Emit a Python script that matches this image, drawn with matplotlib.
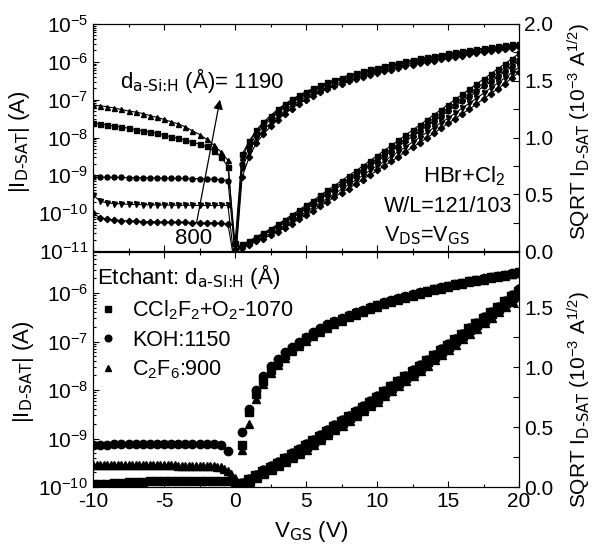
import matplotlib
matplotlib.use('Agg')
import matplotlib.pyplot as plt
import numpy as np
from matplotlib.ticker import MultipleLocator, LogLocator, NullFormatter, FormatStrFormatter

plt.rcParams['font.family'] = ['Liberation Sans', 'DejaVu Sans']
plt.rcParams['mathtext.default'] = 'regular'
plt.rcParams['axes.unicode_minus'] = False

# gate voltage sweeps (V)
v_off = np.arange(-10, 0, 0.5)          # top panel, off branch
v_on = np.arange(0, 20.01, 0.5)         # top panel, on branch
vb_off = np.arange(-10, 0.01, 0.5)      # bottom panel, off branch
vb_tri_off = np.arange(-10, 0.26, 0.25) # bottom panel, C2F6 off branch
vb_on = np.arange(0.5, 20.01, 0.5)      # bottom panel, on branch

# ---- top panel: HBr+Cl2, five a-Si:H thicknesses (A) ----
tri_off = [7.2e-8, 6.9e-8, 6.5e-8, 6.0e-8, 5.5e-8, 5.0e-8, 4.7e-8, 4.3e-8, 3.8e-8, 3.4e-8,
           3.0e-8, 2.6e-8, 2.3e-8, 1.9e-8, 1.5e-8, 1.2e-8, 8.9e-9, 6.3e-9, 4.2e-9, 2.5e-9]
sq_off = [2.4e-8, 2.3e-8, 2.15e-8, 2.0e-8, 1.9e-8, 1.75e-8, 1.6e-8, 1.5e-8, 1.4e-8, 1.3e-8,
          1.15e-8, 1.05e-8, 9.5e-9, 8.5e-9, 7.5e-9, 6.7e-9, 5.8e-9, 4.5e-9, 3.1e-9, 1.7e-9]
circ_off = [9.0e-10, 8.9e-10, 8.9e-10, 8.8e-10, 8.8e-10, 8.7e-10, 8.7e-10, 8.6e-10, 8.6e-10, 8.5e-10,
            8.5e-10, 8.4e-10, 8.3e-10, 8.3e-10, 8.2e-10, 8.1e-10, 8.0e-10, 7.9e-10, 7.7e-10, 7.3e-10]
dtri_off = [3.0e-10, 2.1e-10, 1.85e-10, 1.8e-10, 1.75e-10, 1.72e-10, 1.7e-10, 1.68e-10, 1.66e-10, 1.65e-10,
            1.64e-10, 1.63e-10, 1.62e-10, 1.62e-10, 1.61e-10, 1.6e-10, 1.6e-10, 1.6e-10, 1.6e-10, 1.6e-10]
diam_off = [1.0e-10, 7.6e-11, 7.0e-11, 6.6e-11, 6.4e-11, 6.2e-11, 6.1e-11, 6.0e-11, 5.9e-11, 5.9e-11,
            5.8e-11, 5.8e-11, 5.7e-11, 5.7e-11, 5.6e-11, 5.6e-11, 5.5e-11, 5.5e-11, 5.4e-11, 5.2e-11]

# sqrt(I) in 1e-3 A^1/2, V = 0 .. 20
sq_sqrt = [0.004, 0.06, 0.09, 0.125, 0.16, 0.195, 0.235, 0.275, 0.32, 0.36, 0.405, 0.445, 0.49, 0.535,
           0.575, 0.62, 0.665, 0.705, 0.75, 0.795, 0.84, 0.885, 0.93, 0.975, 1.02, 1.065, 1.11, 1.155,
           1.20, 1.245, 1.29, 1.335, 1.38, 1.425, 1.47, 1.515, 1.56, 1.605, 1.65, 1.695, 1.74]
tri_sqrt = [0.003, 0.055, 0.085, 0.12, 0.15, 0.185, 0.225, 0.265, 0.305, 0.345, 0.39, 0.43, 0.47, 0.515,
            0.555, 0.60, 0.64, 0.685, 0.725, 0.77, 0.815, 0.86, 0.90, 0.945, 0.99, 1.035, 1.08, 1.125,
            1.17, 1.215, 1.26, 1.305, 1.35, 1.39, 1.435, 1.48, 1.525, 1.57, 1.615, 1.66, 1.705]
circ_sqrt = [0.003, 0.045, 0.075, 0.11, 0.14, 0.175, 0.21, 0.25, 0.29, 0.33, 0.37, 0.41, 0.455, 0.50,
             0.54, 0.58, 0.62, 0.66, 0.705, 0.75, 0.79, 0.835, 0.88, 0.92, 0.965, 1.01, 1.05, 1.10,
             1.14, 1.185, 1.23, 1.275, 1.32, 1.36, 1.405, 1.45, 1.49, 1.535, 1.58, 1.625, 1.67]
dtri_sqrt = [0.002, 0.04, 0.065, 0.10, 0.125, 0.155, 0.19, 0.225, 0.265, 0.305, 0.345, 0.385, 0.425, 0.465,
             0.505, 0.545, 0.585, 0.625, 0.665, 0.71, 0.75, 0.79, 0.835, 0.875, 0.915, 0.96, 1.00, 1.045,
             1.085, 1.13, 1.17, 1.215, 1.26, 1.30, 1.345, 1.39, 1.435, 1.48, 1.525, 1.57, 1.62]
diam_sqrt = [0.002, 0.03, 0.055, 0.085, 0.11, 0.14, 0.17, 0.205, 0.24, 0.28, 0.315, 0.355, 0.395, 0.435,
             0.475, 0.515, 0.55, 0.59, 0.63, 0.67, 0.71, 0.75, 0.79, 0.83, 0.875, 0.915, 0.955, 0.995,
             1.04, 1.08, 1.125, 1.165, 1.21, 1.25, 1.295, 1.34, 1.385, 1.43, 1.475, 1.525, 1.575]

# ---- bottom panel: three etchants ----
b_sq_off = [1.15e-10, 1.15e-10, 1.18e-10, 1.2e-10, 1.22e-10, 1.25e-10, 1.27e-10, 1.28e-10, 1.3e-10, 1.3e-10,
            1.32e-10, 1.32e-10, 1.33e-10, 1.33e-10, 1.33e-10, 1.33e-10, 1.33e-10, 1.32e-10, 1.32e-10, 1.3e-10,
            1.1e-10]
b_circ_off = [7.4e-10, 7.5e-10, 7.5e-10, 7.6e-10, 7.6e-10, 7.6e-10, 7.7e-10, 7.7e-10, 7.7e-10, 7.7e-10,
              7.8e-10, 7.8e-10, 7.8e-10, 7.8e-10, 7.8e-10, 7.7e-10, 7.7e-10, 7.6e-10, 7.4e-10, 5.6e-10,
              np.nan]
b_tri_off = [2.9e-10, 2.9e-10, 2.88e-10, 2.88e-10, 2.86e-10, 2.86e-10, 2.85e-10, 2.85e-10, 2.84e-10, 2.84e-10,
             2.83e-10, 2.83e-10, 2.82e-10, 2.82e-10, 2.81e-10, 2.81e-10, 2.8e-10, 2.8e-10, 2.8e-10, 2.79e-10,
             2.79e-10, 2.78e-10, 2.78e-10, 2.78e-10, 2.77e-10, 2.77e-10, 2.76e-10, 2.76e-10, 2.75e-10, 2.75e-10,
             2.74e-10, 2.73e-10, 2.72e-10, 2.7e-10, 2.68e-10, 2.63e-10, 2.55e-10, 2.4e-10, 2.15e-10, 1.85e-10,
             1.5e-10, 1.2e-10]
# sqrt(I) in 1e-3 A^1/2, V = 0.5 .. 20
b_sq_sqrt = [0.027, 0.06, 0.09, 0.125, 0.16, 0.195, 0.23, 0.265, 0.30, 0.34, 0.38, 0.42, 0.46, 0.50,
             0.54, 0.58, 0.62, 0.66, 0.70, 0.745, 0.79, 0.83, 0.875, 0.92, 0.96, 1.005, 1.05, 1.09,
             1.135, 1.18, 1.225, 1.27, 1.315, 1.36, 1.405, 1.45, 1.495, 1.54, 1.585, 1.63]
b_circ_sqrt = [0.037, 0.063, 0.10, 0.14, 0.175, 0.21, 0.245, 0.28, 0.315, 0.355, 0.395, 0.435, 0.475, 0.515,
               0.555, 0.595, 0.635, 0.675, 0.715, 0.76, 0.80, 0.845, 0.885, 0.93, 0.975, 1.015, 1.06, 1.105,
               1.15, 1.19, 1.235, 1.28, 1.325, 1.37, 1.415, 1.46, 1.505, 1.55, 1.60, 1.65]
b_tri_sqrt = [0.024, 0.045, 0.08, 0.115, 0.15, 0.18, 0.215, 0.25, 0.285, 0.32, 0.36, 0.40, 0.44, 0.48,
              0.52, 0.56, 0.60, 0.64, 0.68, 0.72, 0.765, 0.805, 0.85, 0.89, 0.935, 0.98, 1.02, 1.065,
              1.11, 1.15, 1.195, 1.24, 1.285, 1.33, 1.375, 1.42, 1.465, 1.51, 1.555, 1.60]


def cur(s):
    # drain current from sqrt values
    return (np.array(s) * 1e-3) ** 2


fig = plt.figure(figsize=(5.94, 5.45), dpi=100)
ax1 = fig.add_axes([0.1566, 0.5394, 0.7172, 0.4166])
ax2 = fig.add_axes([0.1566, 0.1064, 0.7172, 0.4312])
ax1r = ax1.twinx()
ax2r = ax2.twinx()

# top panel curves
top = [(tri_off, tri_sqrt, '^'), (sq_off, sq_sqrt, 's'), (circ_off, circ_sqrt, 'o'),
       (dtri_off, dtri_sqrt, 'v'), (diam_off, diam_sqrt, 'D')]
for off, sq, m in top:
    v = np.concatenate([v_off, v_on])
    i = np.concatenate([off, cur(sq)])
    ms = 3.2 if m == 'D' else 3.6
    ax1.plot(v, i, color='k', lw=0.8, marker=m, ms=ms)
    ax1r.plot(v_on, sq, color='k', lw=0.8, marker=m, ms=ms)

# bottom panel curves (markers only)
h_sq, = ax2.plot(np.concatenate([vb_off, vb_on]), np.concatenate([b_sq_off, cur(b_sq_sqrt)]),
                 's', color='k', ms=6)
h_ci, = ax2.plot(np.concatenate([vb_off, vb_on]), np.concatenate([b_circ_off, cur(b_circ_sqrt)]),
                 'o', color='k', ms=6)
h_tr, = ax2.plot(np.concatenate([vb_tri_off, vb_on]), np.concatenate([b_tri_off, cur(b_tri_sqrt)]),
                 '^', color='k', ms=6)
ax2r.plot(vb_on, b_sq_sqrt, 's', color='k', ms=6.5)
ax2r.plot(vb_on, b_circ_sqrt, 'o', color='k', ms=6.5)
ax2r.plot(vb_on, b_tri_sqrt, '^', color='k', ms=6.5)

# axes
for ax in (ax1, ax2):
    ax.set_yscale('log')
    ax.set_xlim(-10, 20)
    ax.xaxis.set_major_locator(MultipleLocator(5))
    ax.xaxis.set_minor_locator(MultipleLocator(2.5))
    ax.yaxis.set_major_locator(LogLocator(base=10, numticks=20))
    ax.yaxis.set_minor_locator(LogLocator(base=10, subs=np.arange(2, 10), numticks=20))
    ax.yaxis.set_minor_formatter(NullFormatter())
    ax.tick_params(which='both', direction='in', top=True, right=False, labelsize=15, width=0.8)
    ax.tick_params(which='major', length=4)
    ax.tick_params(which='minor', length=2.5)
ax1.set_ylim(1e-11, 1e-5)
ax2.set_ylim(1e-10, 7e-6)
ax1.tick_params(labelbottom=False)

for ax in (ax1r, ax2r):
    ax.yaxis.set_major_locator(MultipleLocator(0.5))
    ax.yaxis.set_minor_locator(MultipleLocator(0.25))
    ax.yaxis.set_major_formatter(FormatStrFormatter('%.1f'))
    ax.tick_params(which='both', direction='in', labelsize=15, width=0.8)
    ax.tick_params(which='major', length=4)
    ax.tick_params(which='minor', length=4)
ax1r.set_ylim(0, 2.0)
ax2r.set_ylim(0, 1.96)

# labels
fig.text(20 / 594, 1 - 142 / 545, r'|I$_{\text{D-SAT}}$| (A)', rotation=90, ha='center', va='center', fontsize=16)
fig.text(24 / 594, 1 - 372 / 545, r'|I$_{\text{D-SAT}}$| (A)', rotation=90, ha='center', va='center', fontsize=16)
fig.text(579 / 594, 1 - 132 / 545, r'SQRT I$_{\text{D-SAT}}$ (10$^{-3}$ A$^{1/2}$)', rotation=90,
         ha='center', va='center', fontsize=15)
fig.text(579 / 594, 1 - 400 / 545, r'SQRT I$_{\text{D-SAT}}$ (10$^{-3}$ A$^{1/2}$)', rotation=90,
         ha='center', va='center', fontsize=15)
fig.text(311 / 594, 1 - 532 / 545, r'V$_{\text{GS}}$ (V)', ha='center', va='center', fontsize=16)

# top annotations
ax1.text(0.063, 0.75, r'd$_{\text{a-Si:H}}$ (Å)= 1190', transform=ax1.transAxes, ha='left', va='center', fontsize=16)
ax1.text(0.237, 0.057, '800', transform=ax1.transAxes, ha='center', va='center', fontsize=16)
ax1.annotate('', xy=(-1.06, 1e-7), xytext=(-2.7, 5.8e-11),
             arrowprops=dict(arrowstyle='-|>', lw=0.9, color='k', mutation_scale=14, shrinkA=0, shrinkB=0))
ax1.text(0.775, 0.33, r'HBr+Cl$_2$', transform=ax1.transAxes, ha='left', va='center', fontsize=16)
ax1.text(0.683, 0.194, 'W/L=121/103', transform=ax1.transAxes, ha='left', va='center', fontsize=15.5)
ax1.text(0.683, 0.066, r'V$_{\text{DS}}$=V$_{\text{GS}}$', transform=ax1.transAxes, ha='left', va='center', fontsize=15.5)

leg = ax2.legend([h_sq, h_ci, h_tr],
                 [r'CCl$_2$F$_2$+O$_2$-1070', 'KOH:1150', r'C$_2$F$_6$:900'],
                 title=r'Etchant: d$_{\text{a-SI:H}}$ (Å)', title_fontsize=16, fontsize=15.5,
                 loc='upper left', bbox_to_anchor=(0.0, 0.975), frameon=False, alignment='left',
                 handlelength=1.0, handletextpad=0.6, borderaxespad=0, borderpad=0.2,
                 labelspacing=0.35, markerscale=0.8)

plt.savefig('out.png', dpi=100)
